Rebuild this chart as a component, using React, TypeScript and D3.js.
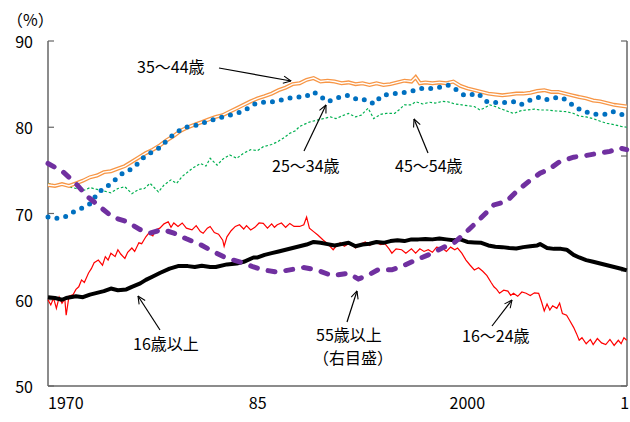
import React from "react";
import * as d3 from "d3";

// ---- data: [year, value] ----
const age16plus: [number, number][] = [
  [1970.0, 60.3], [1970.5, 60.2], [1971.0, 60.0], [1971.3, 60.2], [1972.0, 60.4], [1972.5, 60.3],
  [1973.0, 60.6], [1973.5, 60.8], [1974.0, 61.0], [1974.5, 61.3], [1975.0, 61.1], [1975.6, 61.2],
  [1976.0, 61.5], [1976.6, 61.9], [1977.0, 62.3], [1977.5, 62.7], [1978.0, 63.1], [1978.7, 63.6],
  [1979.3, 63.9], [1980.0, 63.9], [1980.5, 63.8], [1981.0, 63.95], [1981.6, 63.8], [1982.0, 63.8],
  [1982.8, 64.1], [1983.5, 64.2], [1984.0, 64.4], [1984.7, 64.9], [1985.0, 64.9], [1985.5, 65.2],
  [1986.0, 65.4], [1986.5, 65.6], [1987.0, 65.8], [1987.5, 66.0], [1988.0, 66.2], [1988.5, 66.4],
  [1989.0, 66.7], [1989.5, 66.6], [1990.0, 66.45], [1990.5, 66.3], [1991.0, 66.45], [1991.5, 66.6],
  [1992.0, 66.2], [1992.5, 66.4], [1993.0, 66.5], [1993.5, 66.7], [1994.0, 66.6], [1994.5, 66.8],
  [1995.0, 66.9], [1995.5, 66.8], [1996.0, 67.0], [1996.5, 67.0], [1997.0, 67.05], [1997.5, 67.0],
  [1998.0, 67.1], [1998.5, 67.0], [1999.0, 66.9], [1999.5, 67.0], [2000.0, 66.7], [2000.5, 66.65],
  [2001.0, 66.6], [2001.5, 66.3], [2002.0, 66.15], [2002.5, 66.1], [2003.0, 66.0], [2003.5, 65.95],
  [2004.0, 66.1], [2004.5, 66.2], [2005.0, 66.3], [2005.2, 66.45], [2005.7, 66.0], [2006.2, 65.9],
  [2006.7, 65.9], [2007.1, 65.8], [2007.6, 65.2], [2008.0, 64.9], [2008.5, 64.6], [2009.0, 64.4],
  [2009.5, 64.2], [2010.0, 64.0], [2010.5, 63.8], [2011.0, 63.6], [2011.4, 63.4],
];

const age16to24: [number, number][] = [
  [1970.0, 60.0], [1970.2, 59.4], [1970.4, 60.2], [1970.6, 59.0], [1970.8, 60.3], [1971.0, 59.6],
  [1971.2, 60.1], [1971.3, 58.2], [1971.5, 60.4], [1971.8, 60.6], [1972.0, 61.2], [1972.2, 61.5],
  [1972.4, 62.3], [1972.6, 62.0], [1972.9, 63.1], [1973.1, 63.6], [1973.3, 64.3], [1973.6, 64.6],
  [1973.9, 64.0], [1974.1, 65.0], [1974.3, 64.6], [1974.5, 65.4], [1974.8, 65.0], [1975.0, 65.8],
  [1975.2, 65.3], [1975.5, 64.8], [1975.7, 65.5], [1976.0, 66.0], [1976.2, 65.6], [1976.5, 66.6],
  [1976.7, 66.5], [1977.0, 67.3], [1977.2, 67.7], [1977.5, 67.4], [1977.7, 68.1], [1978.0, 68.3],
  [1978.3, 68.8], [1978.6, 69.05], [1978.8, 68.4], [1979.0, 68.9], [1979.3, 68.5], [1979.6, 68.9],
  [1979.9, 68.3], [1980.3, 68.1], [1980.6, 68.6], [1980.9, 67.9], [1981.1, 67.7], [1981.4, 68.3],
  [1981.6, 68.5], [1981.9, 67.8], [1982.2, 67.6], [1982.5, 66.9], [1982.6, 66.2], [1982.8, 67.3],
  [1983.1, 68.0], [1983.4, 68.5], [1983.7, 68.7], [1984.0, 68.2], [1984.2, 68.6], [1984.5, 68.1],
  [1984.8, 68.4], [1985.1, 68.9], [1985.4, 68.85], [1985.7, 68.3], [1986.0, 68.8], [1986.2, 68.4],
  [1986.4, 68.7], [1986.7, 68.9], [1987.0, 68.4], [1987.3, 68.85], [1987.6, 68.5], [1988.0, 68.5],
  [1988.3, 68.7], [1988.5, 69.6], [1988.7, 68.3], [1989.0, 67.9], [1989.3, 67.5], [1989.7, 66.9],
  [1990.0, 66.5], [1990.4, 65.8], [1990.6, 66.2], [1990.9, 66.6], [1991.2, 66.2], [1991.5, 66.5],
  [1991.8, 66.3], [1992.0, 66.0], [1992.3, 66.4], [1992.7, 66.7], [1993.0, 66.3], [1993.4, 66.7],
  [1993.8, 66.4], [1994.1, 66.5], [1994.4, 65.9], [1994.6, 65.4], [1994.9, 65.9], [1995.3, 65.8],
  [1995.6, 65.4], [1996.0, 65.9], [1996.3, 65.4], [1996.6, 65.9], [1996.9, 65.6], [1997.2, 65.8],
  [1997.5, 65.5], [1997.8, 66.1], [1998.2, 66.0], [1998.5, 65.6], [1998.8, 66.1], [1999.1, 65.8],
  [1999.3, 66.0], [1999.6, 65.4], [1999.9, 64.6], [2000.2, 64.0], [2000.5, 63.45], [2000.8, 63.7],
  [2001.1, 63.3], [2001.4, 62.8], [2001.7, 62.0], [2001.9, 61.5], [2002.1, 61.2], [2002.3, 60.75],
  [2002.6, 61.1], [2002.9, 61.0], [2003.1, 60.5], [2003.3, 60.75], [2003.6, 60.4], [2003.9, 60.9],
  [2004.2, 60.75], [2004.5, 60.5], [2004.8, 60.8], [2005.1, 60.75], [2005.3, 59.8], [2005.5, 58.7],
  [2005.7, 59.5], [2005.9, 58.8], [2006.1, 59.3], [2006.4, 59.0], [2006.6, 59.6], [2006.8, 58.4],
  [2007.1, 58.2], [2007.3, 57.65], [2007.6, 56.8], [2007.8, 56.1], [2008.0, 55.3], [2008.2, 55.6],
  [2008.5, 54.9], [2008.8, 55.4], [2009.0, 54.8], [2009.3, 55.5], [2009.6, 55.0], [2009.9, 54.8],
  [2010.2, 55.4], [2010.5, 54.7], [2010.8, 55.3], [2011.0, 54.9], [2011.2, 55.6], [2011.4, 55.3],
];

const age25to34: [number, number][] = [
  [1970.0, 69.6], [1970.6, 69.45], [1971.2, 69.6], [1971.7, 70.1], [1972.4, 70.6], [1973.1, 71.2],
  [1973.4, 72.0], [1974.0, 73.0], [1974.4, 73.3], [1974.8, 73.9], [1975.3, 74.6], [1976.0, 75.2],
  [1976.5, 75.9], [1976.9, 76.6], [1977.4, 77.1], [1977.9, 77.55], [1978.4, 78.3], [1978.8, 78.9],
  [1979.3, 79.5], [1979.8, 80.0], [1980.5, 80.2], [1981.1, 80.5], [1981.6, 80.8], [1982.1, 81.0],
  [1982.5, 81.2], [1983.0, 81.4], [1983.5, 81.6], [1984.0, 81.9], [1984.5, 82.4], [1984.9, 82.8],
  [1985.4, 82.9], [1985.9, 82.9], [1986.4, 83.1], [1986.8, 83.2], [1987.3, 83.4], [1987.8, 83.5],
  [1988.4, 83.5], [1988.7, 83.8], [1989.0, 84.1], [1989.4, 83.7], [1990.0, 82.96], [1990.4, 83.2],
  [1990.9, 83.5], [1991.5, 83.7], [1991.9, 83.4], [1992.2, 83.15], [1992.8, 83.2], [1993.3, 82.7],
  [1993.9, 83.7], [1994.4, 83.8], [1994.8, 83.9], [1995.3, 84.0], [1995.8, 84.1], [1996.3, 84.3],
  [1996.7, 84.5], [1997.2, 84.5], [1997.7, 84.5], [1998.2, 84.7], [1998.6, 84.9], [1999.0, 84.6],
  [1999.4, 84.1], [1999.8, 83.7], [2000.3, 83.8], [2000.8, 83.9], [2001.1, 83.3], [2001.4, 82.96],
  [2001.9, 82.9], [2002.3, 82.8], [2002.8, 82.9], [2003.3, 82.96], [2003.8, 82.6], [2004.2, 82.9],
  [2004.5, 83.15], [2005.0, 83.4], [2005.2, 83.5], [2005.7, 83.2], [2006.2, 83.4], [2006.6, 83.5],
  [2006.9, 83.3], [2007.2, 82.96], [2007.5, 82.6], [2007.8, 82.2], [2008.3, 82.0], [2008.6, 81.7],
  [2009.0, 81.5], [2009.5, 81.5], [2010.0, 81.5], [2010.4, 81.8], [2010.9, 81.6], [2011.4, 81.2],
];

const age35to44: [number, number][] = [
  [1970.0, 73.3], [1970.5, 73.2], [1971.0, 73.4], [1971.5, 73.2], [1972.0, 73.5], [1972.5, 73.8],
  [1973.0, 74.2], [1973.5, 74.4], [1974.0, 74.8], [1974.5, 74.9], [1975.0, 75.2], [1975.5, 75.5],
  [1976.0, 76.0], [1976.5, 76.5], [1977.0, 77.0], [1977.5, 77.4], [1978.0, 77.9], [1978.5, 78.5],
  [1979.0, 79.0], [1979.5, 79.6], [1980.0, 80.0], [1980.5, 80.3], [1981.0, 80.6], [1981.5, 80.9],
  [1982.0, 81.2], [1982.5, 81.4], [1983.0, 81.8], [1983.5, 82.2], [1984.0, 82.6], [1984.5, 83.0],
  [1985.0, 83.35], [1985.5, 83.6], [1986.0, 83.9], [1986.5, 84.3], [1987.0, 84.6], [1987.5, 85.0],
  [1988.0, 85.1], [1988.5, 85.5], [1989.0, 85.7], [1989.5, 85.3], [1990.0, 85.4], [1990.5, 85.3],
  [1991.0, 85.1], [1991.5, 85.2], [1992.0, 85.0], [1992.5, 85.1], [1993.0, 84.9], [1993.5, 85.1],
  [1994.0, 84.9], [1994.5, 85.0], [1995.0, 85.2], [1995.5, 85.4], [1996.0, 85.3], [1996.3, 85.8],
  [1996.6, 85.1], [1997.0, 85.2], [1997.5, 85.1], [1998.0, 85.2], [1998.5, 85.1], [1999.0, 85.3],
  [1999.5, 84.8], [2000.0, 84.5], [2000.5, 84.3], [2001.0, 84.1], [2001.5, 83.9], [2002.0, 83.8],
  [2002.5, 83.7], [2003.0, 83.8], [2003.5, 83.9], [2004.0, 83.9], [2004.5, 84.0], [2005.0, 84.2],
  [2005.5, 84.3], [2006.0, 84.1], [2006.5, 84.1], [2007.0, 83.9], [2007.5, 83.7], [2008.0, 83.5],
  [2008.5, 83.35], [2009.0, 83.1], [2009.5, 83.0], [2010.0, 82.8], [2010.5, 82.6], [2011.0, 82.5],
  [2011.4, 82.4],
];

const age45to54: [number, number][] = [
  [1970.0, 73.5], [1970.5, 73.3], [1971.0, 73.4], [1971.5, 73.1], [1972.0, 72.9], [1972.6, 72.7],
  [1973.0, 73.0], [1973.5, 72.8], [1974.0, 72.6], [1974.5, 72.4], [1975.0, 72.9], [1975.5, 73.1],
  [1976.0, 72.3], [1976.5, 72.8], [1976.9, 72.9], [1977.3, 73.5], [1977.9, 72.5], [1978.3, 73.3],
  [1978.8, 73.9], [1979.2, 73.5], [1979.6, 74.3], [1980.0, 74.8], [1980.3, 75.2], [1980.9, 75.8],
  [1981.3, 75.5], [1981.6, 76.4], [1982.1, 75.6], [1982.5, 76.3], [1983.0, 76.8], [1983.5, 76.4],
  [1984.0, 77.0], [1984.5, 77.4], [1985.0, 77.3], [1985.4, 77.75], [1986.0, 78.0], [1986.4, 78.3],
  [1986.9, 78.8], [1987.3, 79.3], [1987.7, 79.6], [1988.0, 80.1], [1988.7, 80.6], [1989.2, 80.8],
  [1989.7, 81.0], [1990.2, 81.2], [1990.6, 81.0], [1991.0, 81.3], [1991.5, 81.6], [1992.0, 81.2],
  [1992.4, 81.4], [1992.9, 82.2], [1993.3, 81.0], [1993.8, 81.5], [1994.2, 81.6], [1994.8, 81.6],
  [1995.1, 82.0], [1995.5, 82.6], [1996.0, 82.6], [1996.3, 82.96], [1996.8, 82.7], [1997.3, 82.9],
  [1997.7, 82.8], [1998.2, 83.0], [1998.6, 82.96], [1999.1, 82.7], [1999.6, 82.6], [2000.0, 82.5],
  [2000.5, 82.4], [2000.9, 82.0], [2001.3, 82.3], [2001.6, 82.6], [2002.0, 82.4], [2002.3, 82.2],
  [2002.8, 81.9], [2003.3, 81.6], [2003.8, 81.9], [2004.2, 82.0], [2004.8, 82.1], [2005.2, 82.0],
  [2005.7, 82.0], [2006.3, 81.9], [2007.1, 81.8], [2007.6, 81.6], [2008.0, 81.3], [2008.5, 81.2],
  [2009.0, 81.0], [2009.5, 80.7], [2010.0, 80.45], [2010.5, 80.3], [2011.0, 80.1], [2011.4, 80.0],
];

// 55+ (right axis, %)
const age55plus: [number, number][] = [
  [1970.0, 39.35], [1971.1, 38.6], [1972.0, 37.6], [1972.8, 36.5], [1973.7, 35.6], [1974.6, 34.7],
  [1975.6, 34.3], [1976.6, 33.6], [1977.3, 33.3], [1978.2, 33.6], [1979.0, 33.3], [1979.9, 32.8],
  [1980.9, 32.3], [1981.8, 31.7], [1982.8, 31.1], [1983.7, 30.8], [1984.7, 30.35], [1985.4, 30.1],
  [1986.4, 29.9], [1987.3, 30.1], [1988.3, 30.3], [1989.2, 30.1], [1990.3, 29.6], [1991.5, 29.8],
  [1992.2, 29.3], [1993.0, 29.7], [1993.6, 30.1], [1994.6, 30.1], [1995.5, 30.5], [1996.3, 30.95],
  [1997.2, 31.4], [1998.2, 32.0], [1999.1, 32.5], [2000.1, 33.6], [2000.8, 34.4], [2001.9, 35.75],
  [2002.8, 36.05], [2003.5, 36.9], [2004.5, 37.9], [2005.2, 38.5], [2005.9, 38.9], [2006.6, 39.5],
  [2007.6, 39.9], [2008.3, 40.0], [2009.2, 40.2], [2010.2, 40.4], [2010.9, 40.7], [2011.4, 40.55],
];

const leftTicks = [50, 60, 70, 80, 90];
const rightTicks = [20, 30, 40, 50];
const xTickYears = [1970, 1985, 2000, 2011.25];
const xTickLabels = ["1970", "85", "2000", "1"];

const FONT = "'Noto Sans CJK JP', 'DejaVu Sans', sans-serif";

export default function App() {
  const W = 630, H = 422;
  const left = 48, right = 627, top = 41, bottom = 386;
  const x = d3.scaleLinear().domain([1970, 2011.42]).range([left, right]);
  const y = d3.scaleLinear().domain([50, 90]).range([bottom, top]);
  const yR = d3.scaleLinear().domain([20, 50]).range([bottom, top]);

  const line = d3.line<[number, number]>().x((d) => x(d[0])).y((d) => y(d[1]));
  const lineR = d3.line<[number, number]>().x((d) => x(d[0])).y((d) => yR(d[1]));

  const axisColor = "#666666";
  const arrows: [number, number, number, number][] = [
    [219, 68, 291, 81],
    [304, 151, 326, 105],
    [428, 153, 414, 119],
    [160, 330, 138, 296],
    [347, 322, 357, 291],
    [492, 326, 512, 300],
  ];

  return (
    <svg width={W} height={H} style={{ position: "absolute", left: 0, top: 0, background: "#fff" }}
      fontFamily={FONT}>
      <defs>
        <marker id="arr" viewBox="0 0 10 10" refX="9.5" refY="5" markerWidth="9" markerHeight="9"
          orient="auto" markerUnits="userSpaceOnUse">
          <path d="M1,1 L9.5,5 L1,9" fill="none" stroke="#000" strokeWidth="1.2" />
        </marker>
      </defs>

      {/* axes */}
      <line x1={left} x2={left} y1={top} y2={bottom} stroke={axisColor} strokeWidth={1.5} />
      <line x1={right} x2={right} y1={top} y2={bottom} stroke={axisColor} strokeWidth={1.5} />
      <line x1={left} x2={right} y1={bottom} y2={bottom} stroke={axisColor} strokeWidth={1.5} />
      {leftTicks.map((t) => (
        <g key={"l" + t}>
          <line x1={left} x2={left + 6} y1={y(t)} y2={y(t)} stroke={axisColor} strokeWidth={1.2} />
          <text x={33} y={y(t)} textAnchor="end" dominantBaseline="central" fontSize={16} fill="#000">{t}</text>
        </g>
      ))}
      {rightTicks.map((t) => (
        <line key={"r" + t} x1={right - 6} x2={right} y1={yR(t)} y2={yR(t)} stroke={axisColor} strokeWidth={1.2} />
      ))}
      {xTickYears.map((yr, i) => (
        <text key={"x" + i} x={x(yr)} y={402}
          textAnchor={i === 0 ? "start" : "middle"} dominantBaseline="central" fontSize={16} fill="#000">
          {xTickLabels[i]}
        </text>
      ))}
      <text x={7} y={19} dominantBaseline="central" fontSize={16} fill="#000">（%）</text>

      {/* series */}
      <path d={line(age45to54) || ""} fill="none" stroke="#00B050" strokeWidth={1.2} strokeDasharray="2.5 2" />
      <path d={line(age35to44) || ""} fill="none" stroke="#F79646" strokeWidth={4} />
      <path d={line(age35to44) || ""} fill="none" stroke="#fff" strokeWidth={1.4} />
      <path d={line(age25to34) || ""} fill="none" stroke="#0070C0" strokeWidth={5}
        strokeDasharray="0 9" strokeLinecap="round" />
      <path d={line(age16to24) || ""} fill="none" stroke="#FF0000" strokeWidth={1.2} />
      <path d={line(age16plus) || ""} fill="none" stroke="#000" strokeWidth={4} strokeLinejoin="round" />
      <path d={lineR(age55plus) || ""} fill="none" stroke="#7030A0" strokeWidth={5}
        strokeDasharray="7 11" strokeLinecap="round" />

      {/* annotations */}
      {arrows.map((a, i) => (
        <line key={"a" + i} x1={a[0]} y1={a[1]} x2={a[2]} y2={a[3]} stroke="#000" strokeWidth={1.2} markerEnd="url(#arr)" />
      ))}
      <g fontSize={16} fill="#000" dominantBaseline="central">
        <text x={137} y={66}>35～44歳</text>
        <text x={272} y={165}>25～34歳</text>
        <text x={395} y={165}>45～54歳</text>
        <text x={133} y={343}>16歳以上</text>
        <text x={316} y={334}>55歳以上</text>
        <text x={313} y={357}>（右目盛）</text>
        <text x={462} y={335}>16～24歳</text>
      </g>
    </svg>
  );
}
